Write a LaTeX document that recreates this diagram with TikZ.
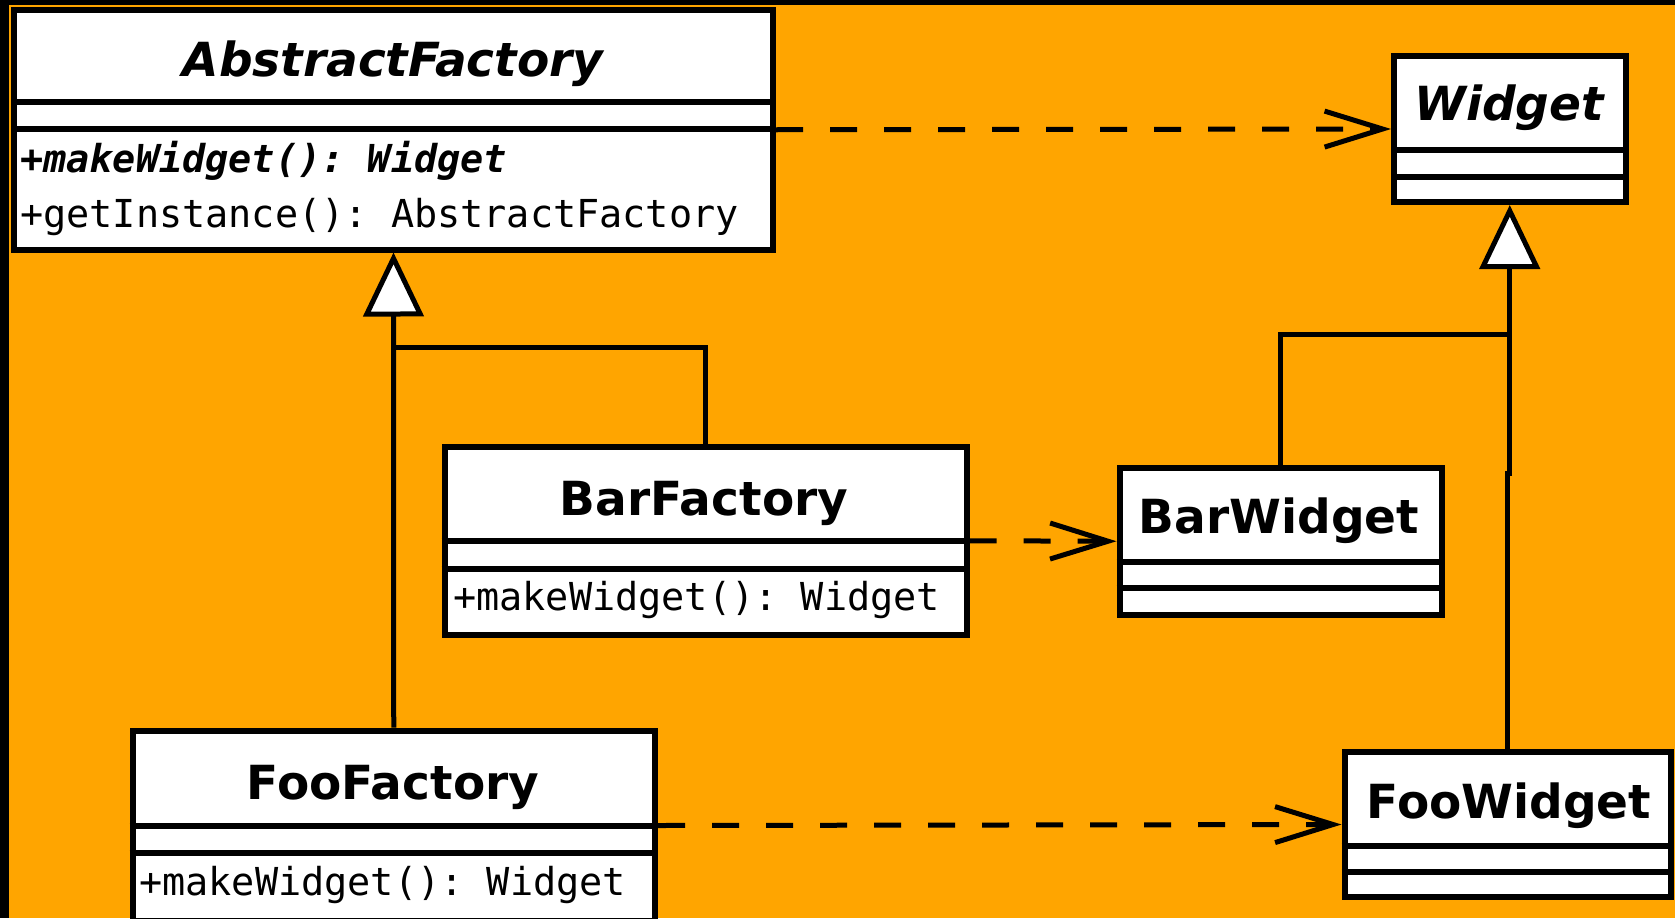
\documentclass[tikz,border=0pt]{standalone}
\usepackage{fontspec}
\setmainfont{DejaVu Sans}
\setmonofont{DejaVu Sans Mono}
\usetikzlibrary{arrows.meta}
\definecolor{bgorange}{RGB}{255,165,0}

\begin{document}
\begin{tikzpicture}[x=1pt,y=-1pt,
  cls/.style={draw=black, fill=white, line width=6pt, rectangle, inner sep=0pt},
  sepline/.style={line width=6pt},
  hdr/.style={anchor=base, inner sep=0pt, font=\fontsize{47}{50}\selectfont\bfseries},
  abstracthdr/.style={hdr, font=\fontsize{47}{50}\selectfont\bfseries\itshape},
  op/.style={anchor=base west, inner sep=0pt, font=\fontsize{38.5}{42}\selectfont\ttfamily},
  conn/.style={line width=5pt},
  gen/.style={conn, -{Triangle[length=64pt,width=60pt,fill=white]}},
  dep/.style={conn, dash pattern=on 27pt off 27pt, -{Straight Barb[length=58pt,width=36pt]}},
]
% page frame
\useasboundingbox (0,0) rectangle (1675,918);
\clip (0,0) rectangle (1675,918);
\fill[bgorange] (0,0) rectangle (1675,918);
\fill[black] (0,0) rectangle (9,918);
\fill[black] (0,0) rectangle (1675,5);

% class boxes
\node[cls, minimum width=759pt, minimum height=239.5pt] (AF) at (393.5,129.75) {};
\node[cls, minimum width=231.5pt, minimum height=146pt] (W) at (1509.75,129) {};
\node[cls, minimum width=522pt, minimum height=187.5pt] (BF) at (705.5,540.75) {};
\node[cls, minimum width=322pt, minimum height=146.5pt] (BW) at (1280.5,541.25) {};
\node[cls, minimum width=522.5pt, minimum height=190pt] (FF) at (393.75,825.5) {};
\node[cls, minimum width=326.5pt, minimum height=145pt] (FW) at (1507.75,824.5) {};

% compartment separators
\draw[sepline] (AF.west |- 0,102) -- (AF.east |- 0,102);
\draw[sepline] (AF.west |- 0,129) -- (AF.east |- 0,129);
\draw[sepline] (W.west |- 0,150) -- (W.east |- 0,150);
\draw[sepline] (W.west |- 0,176.5) -- (W.east |- 0,176.5);
\draw[sepline] (BF.west |- 0,541) -- (BF.east |- 0,541);
\draw[sepline] (BF.west |- 0,569) -- (BF.east |- 0,569);
\draw[sepline] (BW.west |- 0,562) -- (BW.east |- 0,562);
\draw[sepline] (BW.west |- 0,587.5) -- (BW.east |- 0,587.5);
\draw[sepline] (FF.west |- 0,825.5) -- (FF.east |- 0,825.5);
\draw[sepline] (FF.west |- 0,852.5) -- (FF.east |- 0,852.5);
\draw[sepline] (FW.west |- 0,846) -- (FW.east |- 0,846);
\draw[sepline] (FW.west |- 0,871.5) -- (FW.east |- 0,871.5);

% class names and operations
\node[abstracthdr] (AFname) at (393,76) {AbstractFactory};
\node[op, font=\fontsize{38.5}{42}\selectfont\ttfamily\bfseries\itshape] (AFop1) at (20,172) {+makeWidget(): Widget};
\node[op] (AFop2) at (20,227) {+getInstance(): AbstractFactory};
\node[abstracthdr] (Wname) at (1509,120) {Widget};
\node[hdr] (BFname) at (704,515) {BarFactory};
\node[op] (BFop) at (453,610) {+makeWidget(): Widget};
\node[hdr] (BWname) at (1279,533) {BarWidget};
\node[hdr] (FFname) at (393,799) {FooFactory};
\node[op] (FFop) at (139,895) {+makeWidget(): Widget};
\node[hdr] (FWname) at (1509,818) {FooWidget};

% junction points of the generalization trees
\coordinate (afjoin) at (393.75,347);
\coordinate (wjoin) at (1509.75,334);
\coordinate (fwstep) at (0,473);

% generalizations
\draw[gen] (FF.north) -- (AF.south);
\draw[conn] (BF.north) |- (afjoin);
\draw[gen] (FW.north) -- (FW.north |- fwstep) -| (W.south);
\draw[conn] (BW.north) |- (wjoin);

% dependencies
\draw[dep] (AF.east) -- (W.west);
\draw[dep] (BF.east) -- (BW.west);
\draw[dep] (FF.east) -- (FW.west);
\end{tikzpicture}
\end{document}
